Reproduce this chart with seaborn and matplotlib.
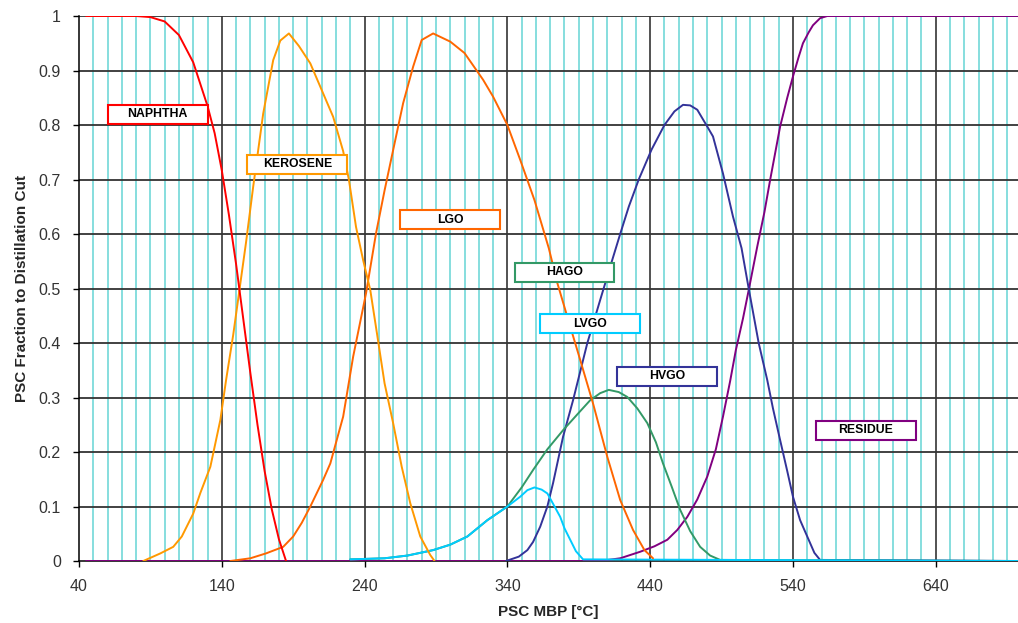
import matplotlib
matplotlib.use("Agg")
import matplotlib.pyplot as plt
import matplotlib.patches as mpatches
import pandas as pd
import seaborn as sns

# PSC fraction curves
naphtha_x = [45, 60, 80, 90, 100, 110, 120, 125, 130, 135, 140, 145, 150, 155, 160, 165, 170, 175, 180, 185]
naphtha_y = [1.0, 1.0, 1.0, 0.998, 0.99, 0.965, 0.915, 0.875, 0.835, 0.785, 0.717, 0.635, 0.545, 0.445, 0.345, 0.25, 0.165, 0.095, 0.04, 0.0]

kerosene_x = [85, 97, 106, 112, 120, 125, 132, 139, 143, 148, 152.5, 157, 162, 169, 176, 181, 187, 194, 202, 210, 218, 225,
              229, 234, 239, 244, 249, 254, 260, 266, 272, 279, 286, 289]
kerosene_y = [0.0, 0.014, 0.026, 0.045, 0.087, 0.125, 0.173, 0.259, 0.332, 0.415, 0.5, 0.585, 0.687, 0.821, 0.919, 0.955, 0.968,
              0.945, 0.913, 0.864, 0.815, 0.752, 0.7, 0.613, 0.552, 0.497, 0.412, 0.326, 0.253, 0.173, 0.106, 0.045, 0.011, 0.0]

lgo_x = [146, 160, 171, 183, 190, 196, 202, 211, 216, 225, 232, 241, 248, 254, 260, 267, 274, 280, 288, 300, 310,
         323, 330, 340, 349, 359, 369, 375, 382, 391, 400, 410, 419, 428, 436, 442]
lgo_y = [0.0, 0.005, 0.014, 0.026, 0.045, 0.07, 0.1, 0.149, 0.179, 0.265, 0.375, 0.491, 0.601, 0.68, 0.754, 0.84, 0.907,
         0.956, 0.968, 0.953, 0.932, 0.883, 0.852, 0.8, 0.736, 0.662, 0.574, 0.51, 0.448, 0.369, 0.289, 0.191, 0.112, 0.057, 0.02, 0.005]

hago_x = [230, 254, 270, 288, 300, 312, 326, 340, 350, 358, 368, 379, 390, 398, 405, 411, 418, 424, 431, 438, 444, 449, 455,
          461, 468, 475, 482, 489, 698]
hago_y = [0.003, 0.005, 0.01, 0.02, 0.03, 0.045, 0.075, 0.1, 0.135, 0.167, 0.205, 0.24, 0.272, 0.295, 0.308, 0.314, 0.31, 0.301,
          0.28, 0.253, 0.218, 0.179, 0.137, 0.094, 0.055, 0.026, 0.01, 0.002, 0.0]

lvgo_x = [230, 254, 270, 288, 300, 312, 326, 340, 349, 354, 359, 364, 368, 372, 377, 380, 384, 388, 393, 698]
lvgo_y = [0.003, 0.005, 0.01, 0.02, 0.03, 0.045, 0.075, 0.1, 0.118, 0.13, 0.135, 0.131, 0.124, 0.105, 0.081, 0.06, 0.039, 0.018, 0.003, 0.0]

hvgo_x = [339, 348, 354, 358, 363, 368, 372, 379, 386, 396, 405, 412, 419, 425, 432, 441, 450, 457, 463, 468, 473, 480, 484,
          491, 498, 504, 509, 516, 522, 526, 531, 536, 540, 545, 550, 555, 559, 698]
hvgo_y = [0.0, 0.008, 0.02, 0.035, 0.063, 0.1, 0.143, 0.228, 0.295, 0.4, 0.479, 0.54, 0.6, 0.65, 0.7, 0.755, 0.8, 0.825, 0.837,
          0.836, 0.828, 0.797, 0.779, 0.711, 0.632, 0.574, 0.5, 0.4, 0.332, 0.28, 0.222, 0.165, 0.118, 0.075, 0.045, 0.015, 0.002, 0.0]

residue_x = [45, 405, 419, 433, 443, 452, 459, 466, 473, 480, 486, 491, 496, 500, 505, 509, 515, 520, 524, 528, 531, 536,
             540, 544, 547, 551, 554, 559, 564, 698]
residue_y = [0.0, 0.0, 0.005, 0.017, 0.027, 0.039, 0.057, 0.081, 0.113, 0.155, 0.205, 0.265, 0.33, 0.387, 0.445, 0.497, 0.577,
             0.64, 0.699, 0.755, 0.797, 0.85, 0.889, 0.925, 0.95, 0.97, 0.983, 0.996, 1.0, 1.0]

cut_names = ["NAPHTHA", "KEROSENE", "LGO", "HAGO", "LVGO", "HVGO", "RESIDUE"]
cut_colors = ["#FF0000", "#FF9900", "#FF6600", "#339966", "#00CCFF", "#333399", "#800080"]
# label box centres (MBP, fraction)
label_x = [95, 193, 300, 380, 398, 452, 591]
label_y = [0.82, 0.728, 0.626, 0.53, 0.435, 0.339, 0.24]

series = {
    "NAPHTHA": (naphtha_x, naphtha_y),
    "KEROSENE": (kerosene_x, kerosene_y),
    "LGO": (lgo_x, lgo_y),
    "HAGO": (hago_x, hago_y),
    "LVGO": (lvgo_x, lvgo_y),
    "HVGO": (hvgo_x, hvgo_y),
    "RESIDUE": (residue_x, residue_y),
}

frames = []
for name in ["RESIDUE", "HVGO", "HAGO", "LVGO", "LGO", "KEROSENE", "NAPHTHA"]:
    xs, ys = series[name]
    frames.append(pd.DataFrame({"MBP": xs, "Fraction": ys, "Cut": name}))
df = pd.concat(frames, ignore_index=True)

sns.set_style("white")
plt.rcParams["font.family"] = ["Liberation Sans", "DejaVu Sans"]

fig = plt.figure(figsize=(10.18, 6.23), dpi=100)
ax = fig.add_axes([0.0776, 0.0995, 0.9224, 0.8748])

# grid: cyan every 10, dark every 100 and every 0.1
ax.set_xlim(40, 697.6)
ax.set_ylim(0, 1)
for v in range(50, 700, 10):
    if (v - 40) % 100 != 0:
        ax.axvline(v, color="#66D4D4", lw=1.1, zorder=1)
for v in range(140, 700, 100):
    ax.axvline(v, color="#444444", lw=1.3, zorder=1.5)
for i in range(1, 11):
    ax.axhline(i / 10, color="#333333", lw=1.3, zorder=1.5)

sns.lineplot(
    data=df, x="MBP", y="Fraction", hue="Cut",
    palette=dict(zip(cut_names, cut_colors)),
    sort=False, estimator=None, legend=False, lw=1.4, ax=ax, zorder=3,
)

for name, color, lx, ly in zip(cut_names, cut_colors, label_x, label_y):
    rect = mpatches.Rectangle((lx - 35, ly - 0.0175), 70, 0.035, facecolor="white",
                              edgecolor=color, lw=1.5, zorder=4)
    ax.add_patch(rect)
    ax.text(lx, ly, name, ha="center", va="center", fontsize=8.8, fontweight="bold",
            color="black", zorder=5)

ax.set_xticks(range(40, 700, 100))
ax.set_yticks([i / 10 for i in range(11)])
ax.set_yticklabels(["0", "0.1", "0.2", "0.3", "0.4", "0.5", "0.6", "0.7", "0.8", "0.9", "1"])
ax.tick_params(axis="both", direction="out", length=4, width=1, color="black",
               labelsize=11.5, labelcolor="#333333", pad=9, left=True, bottom=True)

for side in ["top", "right"]:
    ax.spines[side].set_visible(False)
for side in ["left", "bottom"]:
    ax.spines[side].set_color("black")
    ax.spines[side].set_linewidth(1.1)

ax.set_xlabel("PSC MBP [°C]", fontsize=11, fontweight="bold", labelpad=8)
ax.set_ylabel("PSC Fraction to Distillation Cut", fontsize=11, fontweight="bold", labelpad=7)

fig.savefig("out.png", dpi=100)
plt.close(fig)
